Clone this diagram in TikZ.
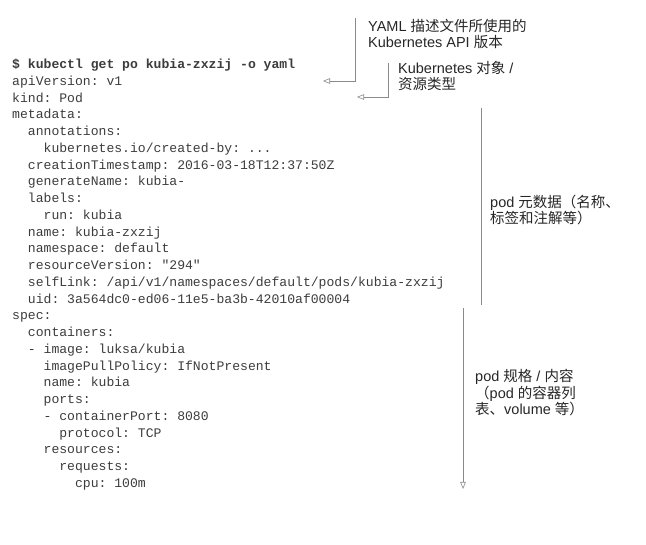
\documentclass[tikz,border=0pt]{standalone}
\usepackage{fontspec}
\setmainfont{Liberation Sans}
\setmonofont{Liberation Mono}
\newfontfamily\cjk{Noto Sans CJK SC}
\usetikzlibrary{arrows.meta}
\definecolor{codegray}{HTML}{3C3C3C}
\definecolor{notegray}{HTML}{262626}
\definecolor{linegray}{HTML}{8A8A8A}
\newcommand{\zh}[1]{{\cjk #1}}
\newcommand{\indt}[1]{\hspace*{\dimexpr #1em*6/10\relax}}
\newcommand{\tdots}{...}
\tikzset{
  yamlline/.style={font=\ttfamily\fontsize{13.1}{16.76}\selectfont, text=codegray, inner sep=0pt, anchor=base west},
  remark/.style={font=\fontsize{14.5}{16.5}\selectfont, text=notegray, align=left, inner sep=0pt, anchor=base west},
  callout/.style={draw=linegray, line width=0.6pt},
  opentip/.style={-{Triangle[open,length=7pt,width=5.5pt]}}
}

\begin{document}
\begin{tikzpicture}[x=1pt,y=-1pt]
\useasboundingbox (0,0) rectangle (646,545);
\foreach \t [count=\i from 0] in {
  {\bfseries \$ kubectl get po kubia-zxzij -o yaml},
  apiVersion: v1,
  kind: Pod,
  metadata:,
  \indt{2}annotations:,
  \indt{4}kubernetes.io/created-by: \tdots,
  \indt{2}creationTimestamp: 2016-03-18T12:37:50Z,
  \indt{2}generateName: kubia-,
  \indt{2}labels:,
  \indt{4}run: kubia,
  \indt{2}name: kubia-zxzij,
  \indt{2}namespace: default,
  \indt{2}resourceVersion: "294",
  \indt{2}selfLink: /api/v1/namespaces/default/pods/kubia-zxzij,
  \indt{2}uid: 3a564dc0-ed06-11e5-ba3b-42010af00004,
  spec:,
  \indt{2}containers:,
  \indt{2}- image: luksa/kubia,
  \indt{4}imagePullPolicy: IfNotPresent,
  \indt{4}name: kubia,
  \indt{4}ports:,
  \indt{4}- containerPort: 8080,
  \indt{6}protocol: TCP,
  \indt{4}resources:,
  \indt{6}requests:,
  \indt{8}cpu: 100m}
  \node[yamlline] (row\i) at (12,68.5+16.76*\i) {\t};

\node[remark] (apinote) at (368,48) {YAML \zh{描述文件所使用的}\\Kubernetes API \zh{版本}};
\node[remark] (kindnote) at (398,90) {Kubernetes \zh{对象} /\\\zh{资源类型}};
\node[remark] (metanote) at (490,224) {pod \zh{元数据（名称、}\\\zh{标签和注解等）}};
\node[remark] (specnote) at (475,415) {pod \zh{规格} / \zh{内容}\\\zh{（}pod \zh{的容器列}\\\zh{表、}volume \zh{等）}};

\coordinate (apitop) at (355,18);
\coordinate (apitip) at (323,81);
\coordinate (kindtop) at (388,63);
\coordinate (kindtip) at (357,97);
\coordinate (metatop) at (481,108);
\coordinate (metaend) at (481,305);
\coordinate (spectop) at (463,308);
\coordinate (specend) at (463,489);

\draw[callout,opentip] (apitop) |- (apitip);
\draw[callout,opentip] (kindtop) |- (kindtip);
\draw[callout] (metatop) -- (metaend);
\draw[callout,opentip] (spectop) -- (specend);
\end{tikzpicture}
\end{document}
